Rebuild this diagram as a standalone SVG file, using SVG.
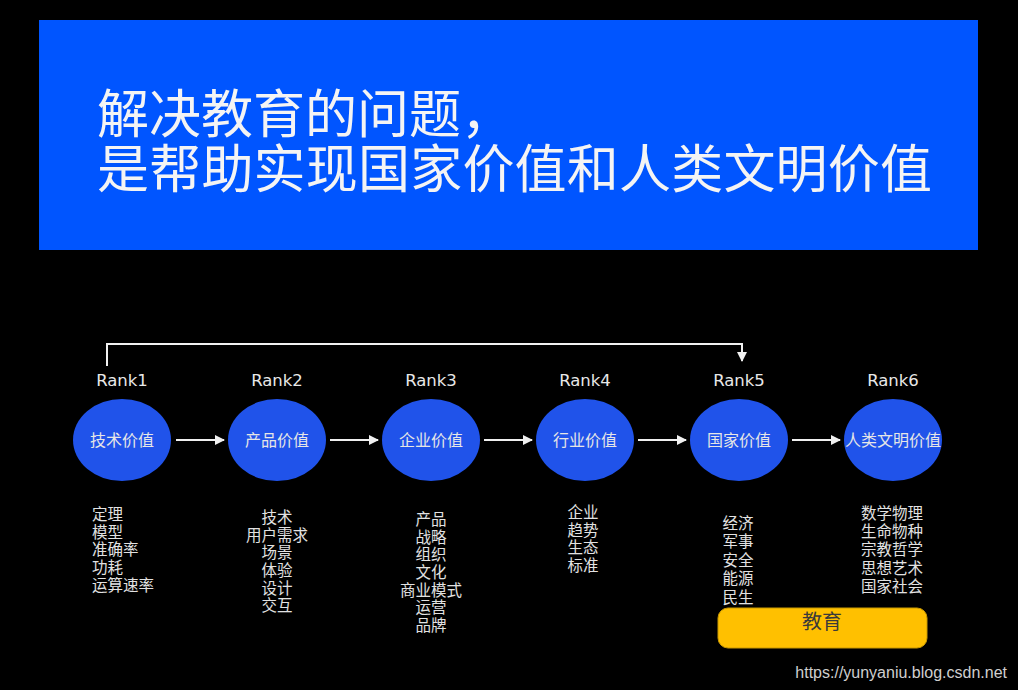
<svg xmlns="http://www.w3.org/2000/svg" width="1018" height="690" viewBox="0 0 1018 690">
<defs>
<style>
.title{font-family:"Noto Sans CJK SC","Noto Sans",sans-serif;font-size:52px;fill:#f4f4f4}
.rank{font-family:"DejaVu Sans","Liberation Sans",sans-serif;font-size:16.5px;fill:#e8e8e8;text-anchor:middle}
.node{fill:#2053ea}
.nt{font-family:"Noto Sans CJK SC",sans-serif;font-size:16px;fill:#e6e6e6;text-anchor:middle}
.lst{font-family:"Noto Sans CJK SC",sans-serif;font-size:15.5px;fill:#e2e2e2;text-anchor:middle}
.conn{stroke:#f0f0f0;stroke-width:2;fill:none}
</style>
<marker id="ah" viewBox="0 0 10 10" refX="9" refY="5" markerWidth="5" markerHeight="5" orient="auto">
<path d="M0,0 L10,5 L0,10 z" fill="#f0f0f0"/>
</marker>
</defs>
<rect width="1018" height="690" fill="#000"/>
<g id="banner">
<rect x="39" y="20" width="939" height="230" fill="#0055ff"/>
<text class="title" x="97" y="133">解决教育的问题，</text>
<text class="title" x="97" y="188" textLength="835" lengthAdjust="spacing">是帮助实现国家价值和人类文明价值</text>
</g>
<g id="connectors">
<polyline class="conn" points="107,366 107,344 742,344 742,361" marker-end="url(#ah)"/>
<line class="conn" x1="176" y1="440" x2="224" y2="440" marker-end="url(#ah)"/>
<line class="conn" x1="330" y1="440" x2="378" y2="440" marker-end="url(#ah)"/>
<line class="conn" x1="484" y1="440" x2="532" y2="440" marker-end="url(#ah)"/>
<line class="conn" x1="638" y1="440" x2="686" y2="440" marker-end="url(#ah)"/>
<line class="conn" x1="792" y1="440" x2="840" y2="440" marker-end="url(#ah)"/>
</g>
<g id="rank1">
<text class="rank" x="122" y="386">Rank1</text>
<ellipse class="node" cx="122" cy="440" rx="49" ry="41"/>
<text class="nt" x="122" y="446">技术价值</text>
<text class="lst" x="92" y="520" style="text-anchor:start">定理</text>
<text class="lst" x="92" y="538" style="text-anchor:start">模型</text>
<text class="lst" x="92" y="555" style="text-anchor:start">准确率</text>
<text class="lst" x="92" y="573" style="text-anchor:start">功耗</text>
<text class="lst" x="92" y="591" style="text-anchor:start">运算速率</text>
</g>
<g id="rank2">
<text class="rank" x="277" y="386">Rank2</text>
<ellipse class="node" cx="277" cy="440" rx="49" ry="41"/>
<text class="nt" x="277" y="446">产品价值</text>
<text class="lst" x="277" y="523">技术</text>
<text class="lst" x="277" y="541">用户需求</text>
<text class="lst" x="277" y="558">场景</text>
<text class="lst" x="277" y="576">体验</text>
<text class="lst" x="277" y="594">设计</text>
<text class="lst" x="277" y="611">交互</text>
</g>
<g id="rank3">
<text class="rank" x="431" y="386">Rank3</text>
<ellipse class="node" cx="431" cy="440" rx="49" ry="41"/>
<text class="nt" x="431" y="446">企业价值</text>
<text class="lst" x="431" y="525">产品</text>
<text class="lst" x="431" y="543">战略</text>
<text class="lst" x="431" y="560">组织</text>
<text class="lst" x="431" y="578">文化</text>
<text class="lst" x="431" y="596">商业模式</text>
<text class="lst" x="431" y="613">运营</text>
<text class="lst" x="431" y="631">品牌</text>
</g>
<g id="rank4">
<text class="rank" x="585" y="386">Rank4</text>
<ellipse class="node" cx="585" cy="440" rx="49" ry="41"/>
<text class="nt" x="585" y="446">行业价值</text>
<text class="lst" x="583" y="518">企业</text>
<text class="lst" x="583" y="536">趋势</text>
<text class="lst" x="583" y="553">生态</text>
<text class="lst" x="583" y="571">标准</text>
</g>
<g id="rank5">
<text class="rank" x="739" y="386">Rank5</text>
<ellipse class="node" cx="739" cy="440" rx="49" ry="41"/>
<text class="nt" x="739" y="446">国家价值</text>
<text class="lst" x="738" y="529">经济</text>
<text class="lst" x="738" y="547">军事</text>
<text class="lst" x="738" y="566">安全</text>
<text class="lst" x="738" y="584">能源</text>
<text class="lst" x="738" y="603">民生</text>
</g>
<g id="rank6">
<text class="rank" x="893" y="386">Rank6</text>
<ellipse class="node" cx="893" cy="440" rx="49" ry="41"/>
<text class="nt" x="893" y="446">人类文明价值</text>
<text class="lst" x="892" y="519">数学物理</text>
<text class="lst" x="892" y="537">生命物种</text>
<text class="lst" x="892" y="555">宗教哲学</text>
<text class="lst" x="892" y="574">思想艺术</text>
<text class="lst" x="892" y="592">国家社会</text>
</g>
<g id="education">
<rect x="718" y="608" width="209" height="40" rx="10" fill="#ffc000" stroke="#c89800" stroke-width="1"/>
<text x="822" y="629" style="font-family:'Noto Sans CJK SC',sans-serif;font-size:20px;fill:#3a3a3a;text-anchor:middle">教育</text>
</g>
<text x="1007" y="678" style="font-family:'Liberation Sans',Arial,sans-serif;font-size:16px;fill:#cfcfcf;text-anchor:end">https://yunyaniu.blog.csdn.net</text>
</svg>
